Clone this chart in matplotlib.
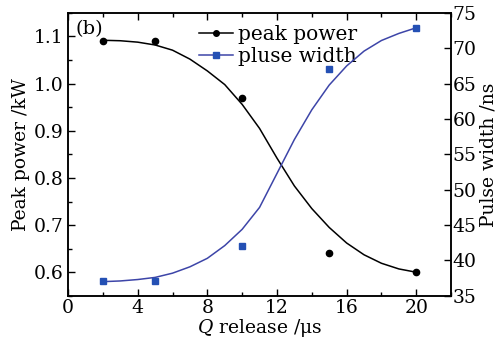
import numpy as np
import matplotlib.pyplot as plt
from matplotlib.lines import Line2D
from matplotlib.ticker import MultipleLocator

plt.rcParams["font.family"] = "DejaVu Serif"
plt.rcParams["mathtext.fontset"] = "dejavuserif"

# measured points
q_release = [2, 5, 10, 15, 20]
peak_power = [1.09, 1.09, 0.97, 0.64, 0.60]
pulse_width = [37.1, 37.1, 42.1, 67.0, 72.9]

# fitted curves at 1 us steps
curve_x = [2, 3, 4, 5, 6, 7, 8, 9, 10, 11, 12, 13, 14, 15, 16, 17, 18, 19, 20]
power_curve = [1.092, 1.091, 1.088, 1.082, 1.071, 1.052, 1.027, 0.998, 0.956,
               0.905, 0.842, 0.783, 0.735, 0.695, 0.662, 0.637, 0.619, 0.607, 0.600]
width_curve = [37.0, 37.1, 37.3, 37.6, 38.2, 39.1, 40.3, 42.1, 44.4,
               47.5, 52.3, 57.1, 61.3, 64.8, 67.5, 69.6, 71.1, 72.1, 72.9]

BLUE_LINE = "#3d45a8"
BLUE_MARK = "#2450b4"

fig = plt.figure(figsize=(5.04, 3.40), dpi=100)
ax = fig.add_axes([0.135, 0.13, 0.760, 0.832])
ax2 = ax.twinx()

ax.plot(curve_x, power_curve, color="black", lw=1.1)
ax.plot(q_release, peak_power, "o", color="black", ms=4.5, ls="none")
ax2.plot(curve_x, width_curve, color=BLUE_LINE, lw=1.1)
ax2.plot(q_release, pulse_width, "s", color=BLUE_MARK, ms=4.2, ls="none")

ax.set_xlim(0, 22)
ax.set_ylim(0.55, 1.15)
ax2.set_ylim(35, 75)

ax.xaxis.set_major_locator(MultipleLocator(4))
ax.xaxis.set_minor_locator(MultipleLocator(2))
ax.yaxis.set_major_locator(MultipleLocator(0.1))
ax.yaxis.set_minor_locator(MultipleLocator(0.05))
ax2.yaxis.set_major_locator(MultipleLocator(5))

ax.tick_params(which="both", direction="in", top=True, labelsize=13.5, width=1)
ax.tick_params(which="major", length=5)
ax.tick_params(which="minor", length=3)
ax.tick_params(axis="x", pad=2)
ax.tick_params(axis="y", pad=3)
ax2.tick_params(direction="in", labelsize=13.5, length=5, width=1, pad=1)

for sp in ax.spines.values():
    sp.set_linewidth(1.1)
for sp in ax2.spines.values():
    sp.set_linewidth(1.1)

ax.set_xlabel(r"$Q$ release /μs", fontsize=13.5, labelpad=0)
ax.set_ylabel("Peak power /kW", fontsize=13.5, labelpad=3)
ax2.set_ylabel("Pulse width /ns", fontsize=13.5, labelpad=2)

ax.text(0.02, 0.975, "(b)", transform=ax.transAxes, fontsize=14,
        ha="left", va="top")

handles = [
    Line2D([], [], color="black", lw=1.1, marker="o", ms=4),
    Line2D([], [], color=BLUE_LINE, lw=1.1, marker="s", mfc=BLUE_MARK,
           mec=BLUE_MARK, ms=3.8),
]
ax.legend(handles, ["peak power", "pluse width"], loc="upper left",
          bbox_to_anchor=(0.32, 0.985), frameon=False, fontsize=14.5,
          handlelength=1.7, handletextpad=0.25, labelspacing=0.12,
          borderaxespad=0.2, borderpad=0.2)

fig.savefig("out.png", dpi=100)
